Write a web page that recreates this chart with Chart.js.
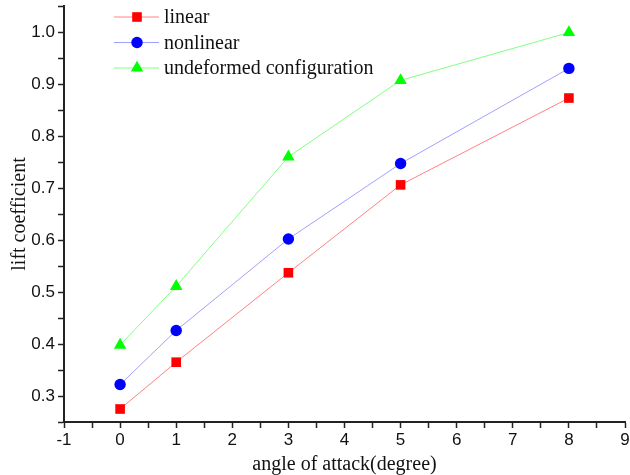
<!DOCTYPE html>
<html>
<head>
<meta charset="utf-8">
<script src="https://cdn.jsdelivr.net/npm/chart.js@4.4.0/dist/chart.umd.min.js"></script>
<style>
  body { margin: 0; background: #fff; }
  #wrap { width: 630px; height: 475px; }
</style>
</head>
<body>
<div id="wrap"><canvas id="grafico" width="630" height="475"></canvas></div>
<script>
// angle of attack (degree)
const angulos = [0, 1, 3, 5, 8];
// lift coefficient por serie
const linearCl = [0.275, 0.365, 0.537, 0.706, 0.873];
const nonlinearCl = [0.322, 0.426, 0.602, 0.747, 0.930];
const undeformedCl = [0.398, 0.511, 0.760, 0.907, 0.999];
const etiquetas = ['linear', 'nonlinear', 'undeformed configuration'];

function puntos(valores) {
    return angulos.map((a, i) => ({ x: a, y: valores[i] }));
}

// leyenda propia: linea + marcador, como en el original
const leyendaLinea = {
    id: 'leyendaLinea',
    afterDraw(chart) {
        const ctx = chart.ctx;
        ctx.save();
        chart.data.datasets.forEach((ds, i) => {
            const y = 17 + i * 25.5;
            ctx.strokeStyle = ds.borderColor;
            ctx.lineWidth = 1;
            ctx.beginPath();
            ctx.moveTo(114, y);
            ctx.lineTo(159, y);
            ctx.stroke();
            ctx.fillStyle = ds.pointBackgroundColor;
            Chart.helpers.drawPoint(ctx, {
                pointStyle: ds.pointStyle, radius: ds.pointRadius, rotation: 0, borderWidth: 0
            }, 137, y);
            ctx.fillStyle = '#111';
            ctx.font = '20px "Liberation Serif"';
            ctx.textBaseline = 'middle';
            ctx.textAlign = 'left';
            ctx.fillText(ds.label, 164, y + 1);
        });
        ctx.restore();
    }
};

const ctx = document.getElementById('grafico');

const data = {
    datasets: [
        {
            label: etiquetas[0],
            data: puntos(linearCl),
            borderColor: 'rgba(255, 130, 130, 1)',
            borderWidth: 1,
            pointStyle: 'rect',
            pointRadius: 6.8,
            pointBackgroundColor: '#ff0000',
            pointBorderWidth: 0,
        },
        {
            label: etiquetas[1],
            data: puntos(nonlinearCl),
            borderColor: 'rgba(160, 160, 255, 1)',
            borderWidth: 1,
            pointStyle: 'circle',
            pointRadius: 5.7,
            pointBackgroundColor: '#0000ff',
            pointBorderWidth: 0,
        },
        {
            label: etiquetas[2],
            data: puntos(undeformedCl),
            borderColor: 'rgba(130, 255, 130, 1)',
            borderWidth: 1,
            pointStyle: 'triangle',
            pointRadius: 7.2,
            pointBackgroundColor: '#00ff00',
            pointBorderWidth: 0,
        }
    ]
};

const config = {
    type: 'line',
    data: data,
    plugins: [leyendaLinea],
    options: {
        responsive: false,
        animation: false,
        layout: { autoPadding: false, padding: { left: 0, top: 6, right: 5, bottom: 0 } },
        plugins: {
            legend: { display: false },
            tooltip: { enabled: false }
        },
        scales: {
            x: {
                type: 'linear',
                min: -1,
                max: 9,
                afterFit(scale) {
                    scale.height = 53;
                    scale.paddingLeft = 0;
                    scale.paddingRight = 0;
                },
                border: { display: true, color: '#222', width: 2 },
                grid: { drawOnChartArea: false, drawTicks: true, tickLength: 6, tickColor: '#222', tickWidth: 1.5 },
                ticks: {
                    stepSize: 0.5,
                    autoSkip: false,
                    maxRotation: 0,
                    padding: 2,
                    color: '#111',
                    font: { family: '"Liberation Sans"', size: 17 },
                    callback(value) {
                        return Number.isInteger(value) ? String(value) : '';
                    }
                },
                title: {
                    display: true,
                    text: 'angle of attack(degree)',
                    color: '#111',
                    font: { family: '"Liberation Serif"', size: 20, lineHeight: 1 },
                    padding: { top: 0, bottom: 0 }
                }
            },
            y: {
                min: 0.25,
                max: 1.05,
                afterFit(scale) {
                    scale.width = 64;
                    scale.paddingTop = 0;
                    scale.paddingBottom = 0;
                },
                border: { display: true, color: '#222', width: 2 },
                grid: { drawOnChartArea: false, drawTicks: true, tickLength: 6, tickColor: '#222', tickWidth: 1.5 },
                ticks: {
                    stepSize: 0.05,
                    autoSkip: false,
                    padding: 3,
                    color: '#111',
                    font: { family: '"Liberation Sans"', size: 17 },
                    callback(value) {
                        const c = Math.round(value * 100);
                        return c % 10 === 0 ? (c / 100).toFixed(1) : '';
                    }
                },
                title: {
                    display: true,
                    text: 'lift coefficient',
                    color: '#111',
                    font: { family: '"Liberation Serif"', size: 20, lineHeight: 1 },
                    padding: { top: 10, bottom: 0 }
                }
            }
        }
    }
};

const miGrafico = new Chart(ctx, config);
</script>
</body>
</html>
